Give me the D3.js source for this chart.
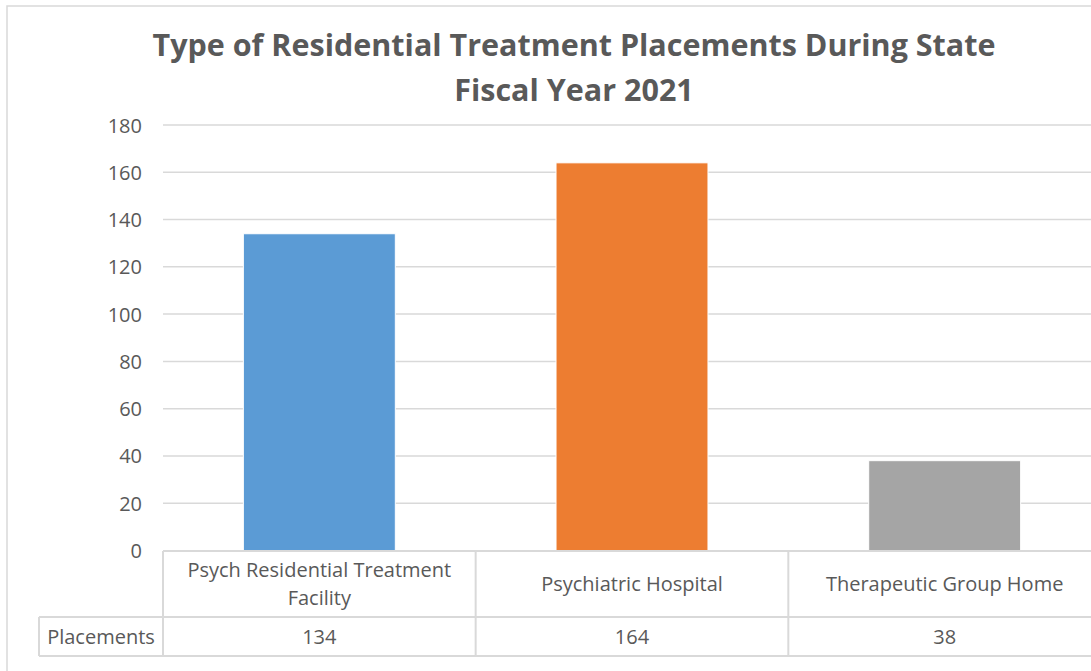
<!DOCTYPE html>
<html>
<head>
<meta charset="utf-8">
<script src="https://cdn.jsdelivr.net/npm/d3@7"></script>
<style>
  body { margin: 0; background: #fff; }
  svg { display: block; }
  text { font-family: "Open Sans", sans-serif; fill: #595959; }
</style>
</head>
<body>
<svg id="chart" width="1091" height="671"></svg>
<script>
// Data
const categories = ['Psych Residential Treatment Facility', 'Psychiatric Hospital', 'Therapeutic Group Home'];
const categoryLines = [['Psych Residential Treatment', 'Facility'], ['Psychiatric Hospital'], ['Therapeutic Group Home']];
const placements = [134, 164, 38];
const barColors = ['#5B9BD5', '#ED7D31', '#A5A5A5'];
const yTicks = [0, 20, 40, 60, 80, 100, 120, 140, 160, 180];
const seriesName = 'Placements';
const titleLines = ['Type of Residential Treatment Placements During State', 'Fiscal Year 2021'];

const svg = d3.select('#chart');
const gridColor = '#D9D9D9';

// chart border
svg.append('rect')
    .attr('x', 7).attr('y', 6)
    .attr('width', 1140).attr('height', 700)
    .attr('fill', 'none')
    .attr('stroke', gridColor)
    .attr('stroke-width', 1.5);

// title
svg.append('g')
    .selectAll('text')
    .data(titleLines)
    .join('text')
    .attr('x', 574)
    .attr('y', (d, i) => 56 + i * 45)
    .attr('text-anchor', 'middle')
    .attr('font-size', 30.5)
    .attr('font-weight', 'bold')
    .text(d => d);

// scales
const plotLeft = 163, plotRight = 1101;
const y = d3.scaleLinear().domain([0, 180]).range([550.5, 125]);
const x = d3.scaleBand().domain(categories).range([plotLeft, plotRight]).padding(0);
const gap = 0.514;
const xBar = d3.scaleBand().domain(categories).range([plotLeft, plotRight])
    .paddingInner(gap).paddingOuter(gap / 2);

// gridlines + tick labels
const yAxis = d3.axisLeft(y)
    .tickValues(yTicks)
    .tickSize(0)
    .tickPadding(0);

const axisG = svg.append('g')
    .attr('transform', `translate(${plotLeft - 21},0)`)
    .call(yAxis);
axisG.select('.domain').remove();
axisG.selectAll('text')
    .attr('font-size', 20)
    .attr('fill', '#595959')
    .attr('font-family', '"Open Sans", sans-serif')
    .attr('dy', '0.35em');

svg.append('g')
    .selectAll('line')
    .data(yTicks.filter(t => t > 0))
    .join('line')
    .attr('x1', plotLeft).attr('x2', plotRight)
    .attr('y1', d => y(d)).attr('y2', d => y(d))
    .attr('stroke', gridColor)
    .attr('stroke-width', 1.5);

// bars
svg.append('g')
    .selectAll('rect')
    .data(categories)
    .join('rect')
    .attr('x', d => xBar(d))
    .attr('width', xBar.bandwidth())
    .attr('y', (d, i) => y(placements[i]))
    .attr('height', (d, i) => y(0) - y(placements[i]))
    .attr('fill', (d, i) => barColors[i])
    .attr('stroke', '#fff')
    .attr('stroke-width', 1);

// data table
const tableTop = 551, rowSplit = 617, tableBottom = 656, labelLeft = 39;
const table = svg.append('g')
    .attr('stroke', gridColor)
    .attr('stroke-width', 2);

table.append('line').attr('x1', plotLeft).attr('x2', plotRight).attr('y1', tableTop).attr('y2', tableTop);
table.append('line').attr('x1', labelLeft).attr('x2', plotRight).attr('y1', rowSplit).attr('y2', rowSplit);
table.append('line').attr('x1', labelLeft).attr('x2', plotRight).attr('y1', tableBottom).attr('y2', tableBottom);
table.append('line').attr('x1', labelLeft).attr('x2', labelLeft).attr('y1', rowSplit).attr('y2', tableBottom);
table.selectAll('line.col')
    .data(categories.concat(['end']))
    .join('line')
    .attr('class', 'col')
    .attr('x1', d => d === 'end' ? plotRight : x(d))
    .attr('x2', d => d === 'end' ? plotRight : x(d))
    .attr('y1', tableTop).attr('y2', tableBottom);

// category labels
const catG = svg.append('g')
    .selectAll('text')
    .data(categories)
    .join('text')
    .attr('text-anchor', 'middle')
    .attr('font-size', 20);
catG.each(function(d, i) {
    const lines = categoryLines[i];
    const cx = x(d) + x.bandwidth() / 2;
    const mid = (tableTop + rowSplit) / 2;
    d3.select(this).selectAll('tspan')
        .data(lines)
        .join('tspan')
        .attr('x', cx)
        .attr('y', (l, j) => mid + (j - (lines.length - 1) / 2) * 28)
        .attr('dy', '0.35em')
        .text(l => l);
});

// values row
svg.append('g')
    .selectAll('text')
    .data(categories)
    .join('text')
    .attr('x', d => x(d) + x.bandwidth() / 2)
    .attr('y', (rowSplit + tableBottom) / 2)
    .attr('dy', '0.35em')
    .attr('text-anchor', 'middle')
    .attr('font-size', 20)
    .text((d, i) => placements[i]);

svg.append('text')
    .attr('x', (labelLeft + plotLeft) / 2)
    .attr('y', (rowSplit + tableBottom) / 2)
    .attr('dy', '0.35em')
    .attr('text-anchor', 'middle')
    .attr('font-size', 20)
    .text(seriesName);
</script>
</body>
</html>
